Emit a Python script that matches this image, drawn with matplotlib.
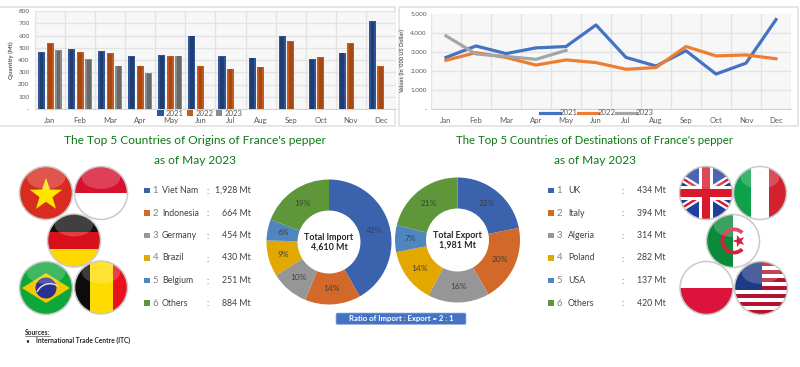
import numpy as np
import matplotlib
matplotlib.use('Agg')
import matplotlib.pyplot as plt
from matplotlib.patches import Circle, Rectangle, FancyBboxPatch, Polygon, Wedge, Ellipse

months = ['Jan','Feb','Mar','Apr','May','Jun','Jul','Aug','Sep','Oct','Nov','Dec']
qty_2021 = [465,490,470,430,440,600,430,420,595,405,460,720]
qty_2022 = [540,465,455,355,430,350,330,345,555,425,535,350]
qty_2023 = [480,405,355,295,435]
val_2021 = [2700,3300,2900,3200,3270,4400,2700,2250,3050,1830,2400,4680]
val_2022 = [2550,2950,2700,2300,2570,2430,2080,2170,3270,2780,2830,2630]
val_2023 = [3830,2880,2750,2600,3070]
import_names = ['Viet Nam','Indonesia','Germany','Brazil','Belgium','Others']
import_vals = [1928,664,454,430,251,884]
export_names = ['UK','Italy','Algeria','Poland','USA','Others']
export_vals = [434,394,314,282,137,420]
import_pct = ['42%','14%','10%','9%','6%','19%']
export_pct = ['22%','20%','16%','14%','7%','21%']
slice_colors = ['#3a62ad','#d2692a','#969696','#e3a800','#4f86c0','#5f9639']

W, H = 800, 367
plt.rcParams['font.family'] = ['Lato', 'DejaVu Sans']
fig = plt.figure(figsize=(W/100, H/100), dpi=100, facecolor='white')

def axpx(x0, y0, x1, y1, **kw):
    return fig.add_axes([x0/W, 1-y1/H, (x1-x0)/W, (y1-y0)/H], **kw)

bg = axpx(0, 0, W, H, zorder=0)
bg.set_xlim(0, W); bg.set_ylim(H, 0); bg.axis('off')
for x0, x1 in [(-2, 395), (399, 798)]:
    bg.add_patch(Rectangle((x0, 7), x1-x0, 119, fc='white', ec='#e2e2e2', lw=1.2))

tc = '#595959'
def style(ax):
    ax.set_facecolor('#f7f7f7')
    for s in ax.spines.values():
        s.set_visible(False)
    ax.spines['bottom'].set_visible(True)
    ax.spines['bottom'].set_color('#d4d4d4')
    ax.set_xlim(-0.5, 11.5)
    ax.set_xticks(np.arange(-0.5, 12), minor=True)
    ax.set_xticks(range(12))
    ax.set_xticklabels(months, fontsize=5.6, color=tc)
    ax.tick_params(axis='both', which='both', length=0)
    ax.grid(True, which='major', axis='y', color='#e3e3e3', lw=1)
    ax.grid(True, which='minor', axis='x', color='#e3e3e3', lw=1)
    ax.set_axisbelow(True)

# Bar chart
a1 = axpx(35, 11, 396, 109)
style(a1)
a1.set_ylim(0, 800)
a1.set_yticks(range(0, 801, 100))
a1.set_yticklabels(['-'] + [str(v) for v in range(100, 801, 100)], fontsize=4.6, color=tc)
a1.tick_params(axis='y', pad=4)
a1.tick_params(axis='x', pad=5.5)
a1.set_ylabel('Quantity (Mt)', fontsize=4.4, color=tc, fontweight='bold')
a1.yaxis.set_label_coords(-0.0585, 0.5)
for vals, off, col, dark, lab in [(qty_2021, -0.285, '#2f5597', '#1c3564', '2021'),
                                  (qty_2022, 0, '#c55a1e', '#96430f', '2022'),
                                  (qty_2023, 0.285, '#8a8a8a', '#5c5c5c', '2023')]:
    xs = np.arange(len(vals)) + off
    a1.bar(xs, vals, width=0.235, color=col, label=lab, zorder=3)
    a1.bar(xs, np.array(vals) - 6, width=0.12, color=dark, zorder=4, alpha=0.7)
a1.legend(loc='center', bbox_to_anchor=(0.457, -0.042), ncol=3, frameon=False, fontsize=5.6,
          labelcolor=tc, handlelength=0.8, handleheight=0.8, columnspacing=0.35, handletextpad=0.3,
          borderpad=0, borderaxespad=0)

# Line chart
a2 = axpx(431, 13.5, 791, 109)
style(a2)
a2.set_ylim(0, 5000)
a2.set_yticks(range(0, 5001, 1000))
a2.set_yticklabels(['-', '1.000', '2.000', '3.000', '4.000', '5.000'], fontsize=4.6, color=tc)
a2.tick_params(axis='y', pad=3)
a2.tick_params(axis='x', pad=5.5)
a2.set_ylabel("Values (in '000 US Dollar)", fontsize=4.1, color=tc, fontweight='bold')
a2.yaxis.set_label_coords(-0.071, 0.5)
for vals, col, lab in [(val_2021, '#4472c4', '2021'), (val_2022, '#ed7d31', '2022'), (val_2023, '#a5a5a5', '2023')]:
    a2.plot(range(len(vals)), vals, color=col, lw=2.3, label=lab, zorder=3, solid_joinstyle='round')
a2.legend(loc='center', bbox_to_anchor=(0.46, -0.04), ncol=3, frameon=False, fontsize=5.6,
          labelcolor=tc, handlelength=2.6, columnspacing=0.1, handletextpad=-0.1,
          borderpad=0, borderaxespad=0)

# Overlay for everything else, in reference pixels
ov = axpx(0, 0, W, H, zorder=5)
ov.set_xlim(0, W); ov.set_ylim(H, 0); ov.axis('off'); ov.patch.set_alpha(0)

green = '#0c7a12'
for cx, lines, fs in [(195, ["The Top 5 Countries of Origins of France's pepper", 'as of May 2023'], 8.6),
                      (595, ["The Top 5 Countries of Destinations of France's pepper", 'as of May 2023'], 8.2)]:
    ov.text(cx, 141, lines[0], ha='center', va='center', fontsize=fs, color=green)
    ov.text(cx, 161, lines[1], ha='center', va='center', fontsize=8.6, color=green)

rows_y = [190.5, 213, 235.5, 258, 280.5, 303]
def table(names, vals, xsq, xnum, xname, xcolon, xval):
    for i, (n, v) in enumerate(zip(names, vals)):
        y = rows_y[i]
        ov.add_patch(Rectangle((xsq, y-2.7), 5.5, 5.5, fc=slice_colors[i], ec='none'))
        ov.text(xnum, y, str(i+1), fontsize=6.8, color='#7f7f7f', ha='left', va='center')
        ov.text(xname, y, n, fontsize=6.3, color='#404040', ha='left', va='center')
        ov.text(xcolon, y+1, ':', fontsize=6.3, color='#404040', ha='center', va='center')
        ov.text(xval, y, f'{v:,} Mt', fontsize=6.3, color='#404040', ha='right', va='center')
table(import_names, import_vals, 144, 152.5, 162, 208, 250.5)
table(export_names, export_vals, 548, 556.5, 568, 623, 665.5)

def donut(cx, cy, vals, pcts, title, total):
    r, r0 = 62.5, 31.5
    ang = 90.0
    tot = sum(vals)
    for v, c, p in zip(vals, slice_colors, pcts):
        d = 360.0 * v / tot
        th1, th2 = -ang, -(ang - d)
        ov.add_patch(Wedge((cx, cy), r, th1, th2, width=r-r0, fc=c, ec='none'))
        mid = np.deg2rad(ang - d/2)
        ov.text(cx + 47*np.cos(mid), cy - 47*np.sin(mid), p, fontsize=6, color='#404040', ha='center', va='center')
        ang -= d
    ov.text(cx, cy-4.5, title, fontsize=6.4, fontweight='bold', color='#262626', ha='center', va='center')
    ov.text(cx, cy+5.5, total, fontsize=6.4, fontweight='bold', color='#262626', ha='center', va='center')
donut(329, 242, import_vals, import_pct, 'Total Import', '4,610 Mt')
donut(457.5, 240, export_vals, export_pct, 'Total Export', '1,981 Mt')

ov.add_patch(FancyBboxPatch((336, 313), 130, 11.5, boxstyle='round,pad=0,rounding_size=1.5', fc='#4472c4', ec='#9db5e0', lw=0.5))
ov.text(401, 318.7, 'Ratio of Import : Export = 2 : 1', fontsize=5.6, fontweight='bold', color='white', ha='center', va='center')

ov.text(25, 332.5, 'Sources:', fontsize=4.8, fontweight='bold', color='#262626', ha='left', va='center')
ov.plot([25, 49.5], [335.7, 335.7], color='#262626', lw=0.4)
ov.text(25, 340.5, '•', fontsize=4.8, color='#262626', ha='left', va='center')
ov.text(36, 340.5, 'International Trade Centre (ITC)', fontsize=4.8, fontweight='bold', color='#262626', ha='left', va='center')

# Flags: clipped glossy circles
def flag(cx, cy, draw, r=26.5):
    clip = Circle((cx, cy), r, transform=ov.transData)
    for art in draw(cx, cy, r):
        ov.add_artist(art)
        art.set_clip_path(clip)
    gloss = Ellipse((cx, cy-r*0.58), r*1.45, r*0.85, fc='white', ec='none', alpha=0.2)
    ov.add_artist(gloss); gloss.set_clip_path(clip)
    ov.add_patch(Circle((cx, cy), r, fc='none', ec='#c9c9c9', lw=1.1))

def rect(x, y, w, h, c):
    return Rectangle((x, y), w, h, fc=c, ec='none')
def star(cx, cy, R, c, rot=0):
    a = np.deg2rad(np.arange(10)*36 - 90 + rot)
    rad = np.where(np.arange(10) % 2 == 0, R, R*0.4)
    return Polygon(np.c_[cx+rad*np.cos(a), cy+rad*np.sin(a)], fc=c, ec='none')

def vn(x, y, r): return [rect(x-r, y-r, 2*r, 2*r, '#d92c20'), star(x, y+2, 17, '#ffe600')]
def idn(x, y, r): return [rect(x-r, y-r, 2*r, r, '#d8112f'), rect(x-r, y, 2*r, r, '#ffffff')]
def de(x, y, r):
    h = 2*r/3
    return [rect(x-r, y-r, 2*r, h, '#111111'), rect(x-r, y-r+h, 2*r, h, '#d8101c'), rect(x-r, y-r+2*h, 2*r, h, '#ffd800')]
def br(x, y, r):
    return [rect(x-r, y-r, 2*r, 2*r, '#0ea83a'),
            Polygon([(x-24, y), (x, y-15), (x+24, y), (x, y+15)], fc='#f4c800', ec='none'),
            Circle((x, y), 10.5, fc='#2b2f8f', ec='none'),
            Wedge((x+4, y+10), 15, 205, 305, width=1.4, fc='#e8e8e8', ec='none')]
def be(x, y, r):
    return [rect(x-r, y-r, 15, 2*r, '#0c0c0c'), rect(x-r+15, y-r, 23, 2*r, '#ffdc00'), rect(x-r+38, y-r, 16, 2*r, '#e8111c')]
def uk(x, y, r):
    out = [rect(x-r, y-r, 2*r, 2*r, '#1f3f9e')]
    def diag(sgn, w, c):
        return Polygon([(x-r, y-sgn*(r*0.62)-w), (x-r, y-sgn*(r*0.62)+w), (x+r, y+sgn*(r*0.62)+w), (x+r, y+sgn*(r*0.62)-w)], fc=c, ec='none')
    out += [diag(1, 4, 'white'), diag(-1, 4, 'white'), diag(1, 1.4, '#d81a2c'), diag(-1, 1.4, '#d81a2c')]
    out += [rect(x-r, y-7, 2*r, 14, 'white'), rect(x-7, y-r, 14, 2*r, 'white'),
            rect(x-r, y-4, 2*r, 8, '#d81a2c'), rect(x-4, y-r, 8, 2*r, '#d81a2c')]
    return out
def it(x, y, r):
    w = 2*r/3
    return [rect(x-r, y-r, w, 2*r, '#0da24a'), rect(x-r+w, y-r, w, 2*r, '#ffffff'), rect(x-r+2*w, y-r, w, 2*r, '#d3212f')]
def dz(x, y, r):
    return [rect(x-r, y-r, r, 2*r, '#0b8a3a'), rect(x, y-r, r, 2*r, '#ffffff'),
            Wedge((x+1, y), 13.5, 45, 315, width=3.8, fc='#d3213f', ec='none'),
            star(x+6, y, 6.5, '#d3213f', rot=-90)]
def pl(x, y, r): return [rect(x-r, y-r, 2*r, r, '#ffffff'), rect(x-r, y, 2*r, r, '#dc143c')]
def us(x, y, r):
    h = 2*r/13
    out = [rect(x-r, y-r, 2*r, 2*r, '#ffffff')]
    out += [rect(x-r, y-r+i*h, 2*r, h, '#b3132f') for i in range(0, 13, 2)]
    out.append(rect(x-r, y-r, r*1.05, 7*h, '#1f3a85'))
    return out

for args in [(46, 193, vn), (101, 193, idn), (74, 240.5, de), (46, 288, br), (101, 287.5, be),
             (706, 193, uk), (760, 193, it), (733, 241, dz), (706.5, 288, pl), (761, 288, us)]:
    flag(*args)

fig.savefig('out.png', dpi=100, facecolor='white')
